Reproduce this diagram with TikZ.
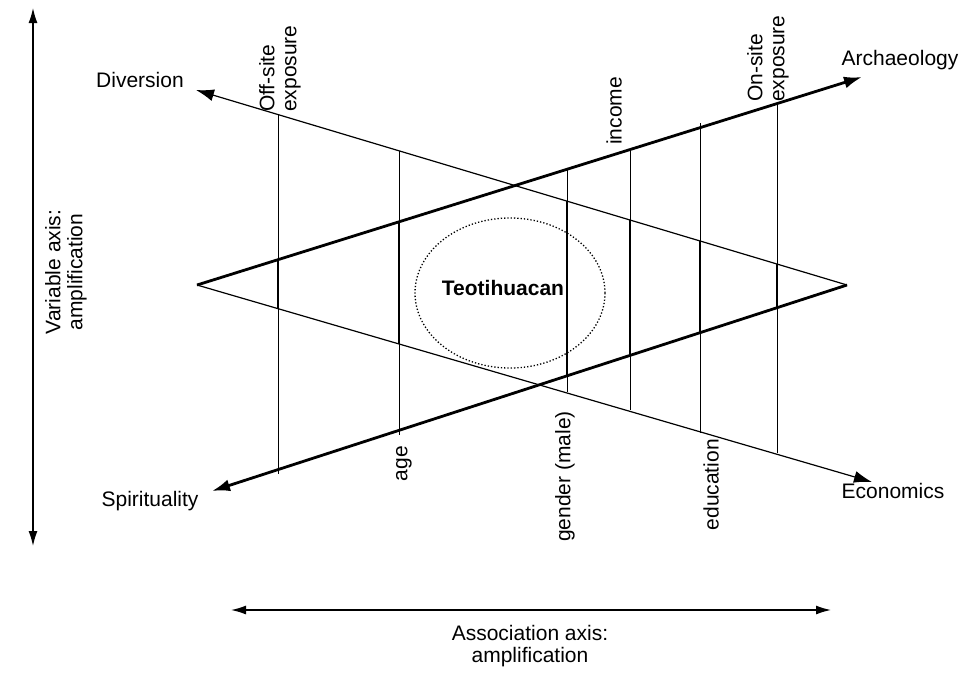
\documentclass[tikz,border=0pt]{standalone}
\usepackage{fontspec}
\setmainfont{Liberation Sans}
\usetikzlibrary{arrows.meta}
\begin{document}
\begin{tikzpicture}[x=1pt,y=-1pt,
  lbl/.style={font=\fontsize{21}{22}\selectfont, inner sep=1pt},
  vlbl/.style={lbl, rotate=90, align=left},
  thinln/.style={line width=1.2pt},
  thickln/.style={line width=2.8pt},
  tip/.style={-{Latex[length=18pt,width=12pt]}},
  axis/.style={line width=1.4pt,{Latex[length=15pt,width=9pt]}-{Latex[length=15pt,width=9pt]}}]
\useasboundingbox (0,0) rectangle (974,681);
\coordinate (L) at (197,285);
\coordinate (R) at (847,285);
\coordinate (Dv) at (196,90);
\coordinate (Ec) at (872,482);
\coordinate (Ar) at (862,77);
\coordinate (Sp) at (212,491);
\draw[thinln,tip] (R) -- (Dv);
\draw[thinln,tip] (L) -- (Ec);
\draw[thickln,tip] (L) -- (Ar);
\draw[thickln,tip] (R) -- (Sp);
\node[lbl] (tD) at (140,80) {Diversion};
\node[lbl] (tE) at (893,491) {Economics};
\node[lbl] (tA) at (900,60) {Archaeology};
\node[lbl] (tS) at (150,501) {Spirituality};
\foreach \x/\a/\b/\c/\d in {278/114.3/474/259.7/308.5, 399/150.6/435/221.9/343.5, 567/169.5/392.2/201/375.8, 630/149.8/410.4/219.9/355.4, 700/123/433/240.9/332.7, 777/103.9/453/264/307.7}{
  \draw[line width=0.8pt] (\x,\a) -- (\x,\b);
  \draw[line width=2.8pt] (\x,\c) -- (\x,\d);
}
\draw[dotted, line width=1.3pt] (510,293) ellipse (95 and 75);
\node[font=\fontsize{21}{22}\selectfont\bfseries] (teo) at (503,288) {Teotihuacan};
\node[vlbl, anchor=south west] (off) at (302,113) {Off-site\\exposure};
\node[vlbl, anchor=south west] (inc) at (623,146) {income};
\node[vlbl, anchor=south west] (on) at (790,103) {On-site\\exposure};
\node[vlbl, anchor=south east] (age) at (413,445) {age};
\node[vlbl, anchor=south east] (gen) at (576,410) {gender (male)};
\node[vlbl, anchor=south east] (edu) at (720,438) {education};
\coordinate (vt) at (33,8);
\coordinate (vb) at (33,546);
\draw[axis] (vt) -- (vb);
\node[vlbl, align=center] (vl) at (66,272) {Variable axis:\\amplification};
\coordinate (hl) at (231,610);
\coordinate (hr) at (831,610);
\draw[axis] (hl) -- (hr);
\node[lbl, align=center] (hlab) at (530,646) {Association axis:\\amplification};
\end{tikzpicture}
\end{document}
